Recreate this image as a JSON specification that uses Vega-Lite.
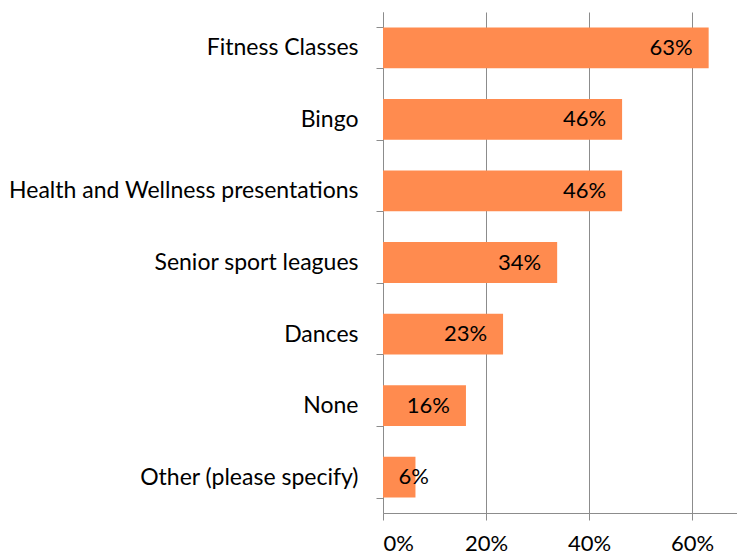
{
  "$schema": "https://vega.github.io/schema/vega-lite/v6.json",
  "width": 354,
  "height": 501,
  "autosize": {"type": "none"},
  "padding": {"left": 383, "top": 12, "right": 0, "bottom": 44},
  "background": "white",
  "config": {"view": {"stroke": null}, "font": "Lato"},
  "data": {
    "values": [
      {"activity": "Fitness Classes", "value": 0.632},
      {"activity": "Bingo", "value": 0.464},
      {"activity": "Health and Wellness presentations", "value": 0.464},
      {"activity": "Senior sport leagues", "value": 0.338},
      {"activity": "Dances", "value": 0.233},
      {"activity": "None", "value": 0.161},
      {"activity": "Other (please specify)", "value": 0.063}
    ]
  },
  "transform": [
    {"calculate": "max(datum.value, 0.12)", "as": "labelPos"}
  ],
  "encoding": {
    "y": {
      "field": "activity",
      "type": "nominal",
      "sort": null,
      "scale": {"paddingInner": 0.43, "paddingOuter": 0.215},
      "axis": {
        "title": null,
        "tickBand": "extent",
        "domainColor": "#8c8c8c",
        "tickColor": "#8c8c8c",
        "tickSize": 7,
        "labelPadding": 18,
        "labelFontSize": 23,
        "labelColor": "#000000",
        "labelFont": "Lato",
        "labelLimit": 400
      }
    }
  },
  "layer": [
    {
      "mark": {"type": "bar", "color": "#FF8B4F"},
      "encoding": {
        "x": {
          "field": "value",
          "type": "quantitative",
          "scale": {"domain": [0, 0.687], "nice": false, "zero": true},
          "axis": {
            "title": null,
            "values": [0, 0.2, 0.4, 0.6],
            "format": ".0%",
            "grid": true,
            "gridColor": "#8c8c8c",
            "gridWidth": 1,
            "domainColor": "#8c8c8c",
            "tickColor": "#8c8c8c",
            "tickSize": 7,
            "labelPadding": 13,
            "labelFontSize": 22,
            "labelColor": "#000000",
            "labelFont": "Lato"
          }
        }
      }
    },
    {
      "mark": {"type": "text", "align": "right", "baseline": "middle", "dx": -16, "fontSize": 22, "color": "#000000", "font": "Lato"},
      "encoding": {
        "x": {"field": "labelPos", "type": "quantitative"},
        "text": {"field": "value", "type": "quantitative", "format": ".0%"}
      }
    }
  ]
}
